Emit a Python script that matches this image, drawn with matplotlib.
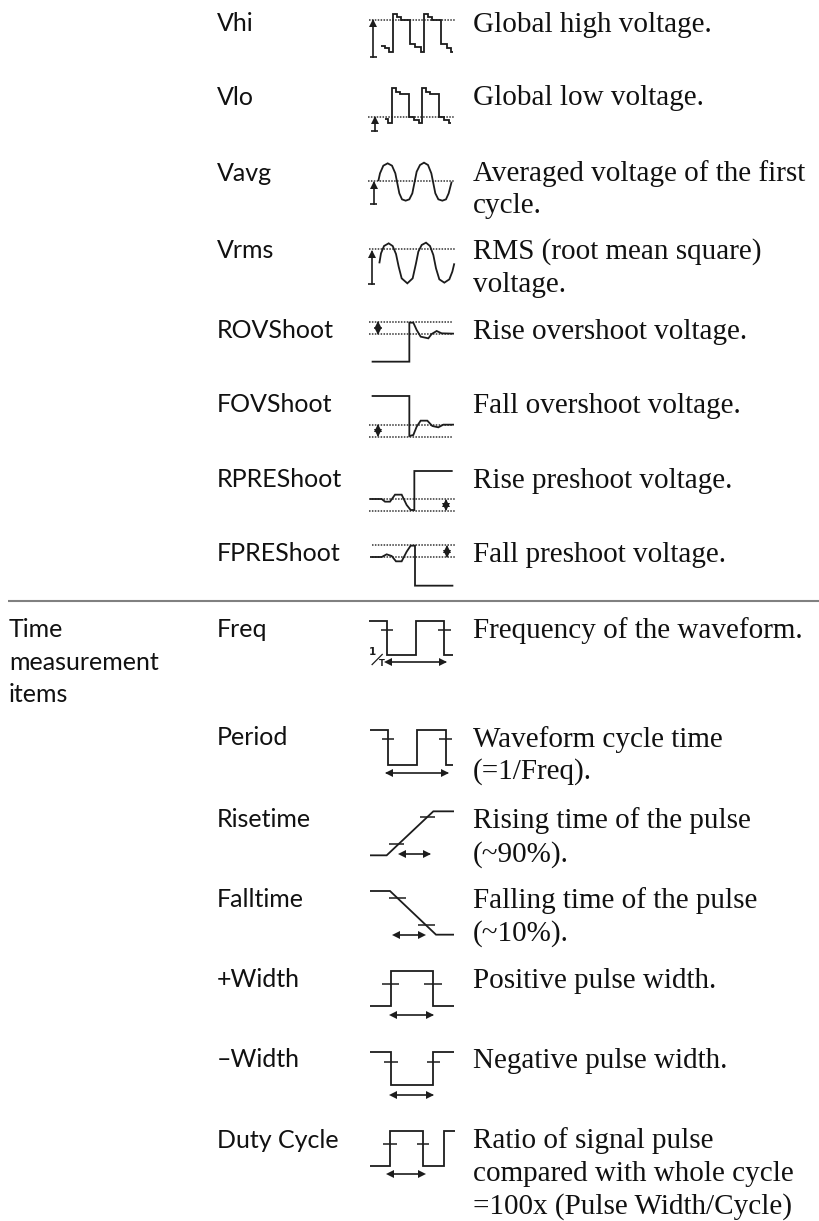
import matplotlib
matplotlib.use("Agg")
import matplotlib.pyplot as plt

# table text
group_lines = ["Time", "measurement", "items"]
group_base = [637, 670, 702]

names = ["Vhi", "Vlo", "Vavg", "Vrms", "ROVShoot", "FOVShoot", "RPREShoot", "FPREShoot",
         "Freq", "Period", "Risetime", "Falltime", "+Width", "\u2013Width", "Duty Cycle"]
name_base = [31, 105, 181, 258, 338, 412, 487, 561, 637, 745, 827, 907, 987, 1067, 1148]

desc_lines = ["Global high voltage.", "Global low voltage.",
              "Averaged voltage of the first", "cycle.",
              "RMS (root mean square)", "voltage.",
              "Rise overshoot voltage.", "Fall overshoot voltage.",
              "Rise preshoot voltage.", "Fall preshoot voltage.",
              "Frequency of the waveform.",
              "Waveform cycle time", "(=1/Freq).",
              "Rising time of the pulse", "(~90%).",
              "Falling time of the pulse", "(~10%).",
              "Positive pulse width.", "Negative pulse width.",
              "Ratio of signal pulse", "compared with whole cycle",
              "=100x (Pulse Width/Cycle)"]
desc_base = [32, 105, 181, 213, 259, 292, 339, 413, 488, 562, 638, 747, 779, 828, 862, 908, 941,
             988, 1068, 1148, 1181, 1214]

vhi = [(242, 137), (255, 137), (255, 143), (268, 143), (268, 155), (280, 155), (280, 42), (290, 42),
       (290, 52), (302, 52), (302, 61), (330, 61), (330, 133), (345, 133), (345, 140), (362, 140),
       (362, 155), (372, 155), (372, 42), (383, 42), (383, 52), (395, 52), (395, 61), (423, 61),
       (423, 133), (440, 133), (440, 143), (452, 143), (452, 155), (460, 155)]
vlo = [(255, 358), (265, 358), (265, 370), (277, 370), (277, 265), (288, 265), (288, 275), (300, 275),
       (300, 283), (327, 283), (327, 352), (343, 352), (343, 360), (357, 360), (357, 370), (367, 370),
       (367, 265), (378, 265), (378, 275), (390, 275), (390, 283), (416, 283), (416, 352), (432, 352),
       (432, 360), (447, 360), (447, 370), (453, 370)]
vavg = [(235, 543), (240, 520), (250, 497), (263, 490), (276, 497), (286, 520), (292, 550), (298, 580),
        (306, 598), (317, 602), (328, 598), (337, 580), (344, 545), (350, 515), (360, 495), (372, 488),
        (384, 495), (394, 520), (400, 550), (406, 580), (415, 598), (427, 602), (438, 598), (446, 580),
        (455, 545)]
vrms = [(238, 790), (243, 760), (252, 738), (266, 730), (278, 738), (288, 762), (296, 800), (305, 835),
        (322, 850), (338, 835), (348, 790), (355, 755), (365, 735), (378, 728), (390, 738), (400, 765),
        (408, 805), (418, 838), (433, 848), (448, 838), (457, 815), (463, 790)]
rov = [(215, 125), (328, 125), (328, 8), (340, 8), (350, 30), (362, 50), (385, 55), (395, 42),
       (410, 33), (425, 40), (462, 41)]
fov = [(215, 228), (328, 228), (328, 348), (340, 345), (350, 320), (362, 302), (382, 302), (397, 318),
       (415, 322), (430, 314), (462, 314)]
rpre = [(210, 537), (245, 537), (255, 545), (270, 545), (285, 524), (305, 524), (320, 555), (332, 570),
        (343, 570), (343, 453), (458, 453)]
fpre = [(210, 711), (245, 711), (260, 703), (275, 708), (288, 724), (305, 724), (320, 695), (332, 677),
        (345, 677), (345, 797), (460, 797)]
freq = [(27, 34), (82, 34), (82, 135), (167, 135), (167, 34), (253, 34), (253, 135), (278, 135)]
period = [(210, 270), (265, 270), (265, 376), (350, 376), (350, 270), (438, 270), (438, 376), (460, 376)]
rise = [(210, 646), (260, 646), (400, 514), (462, 514)]
fall = [(210, 753), (270, 753), (408, 884), (462, 884)]
pwidth = [(210, 227), (273, 227), (273, 124), (400, 124), (400, 227), (462, 227)]
nwidth = [(210, 365), (272, 365), (272, 466), (400, 466), (400, 365), (462, 365)]
duty = [(210, 709), (270, 709), (270, 604), (368, 604), (368, 709), (432, 709), (432, 604), (465, 604)]

INK = "#1c1c1c"
DOT = "#333333"
SERIF = "Liberation Serif"
SANS = "Lato"

fig = plt.figure(figsize=(8.2, 12.21), dpi=100)
ax = fig.add_axes([0, 0, 1, 1])
ax.set_xlim(0, 820)
ax.set_ylim(1221, 0)
ax.axis("off")


def page(pts, ox, oy):
    return [ox + p[0] / 3 for p in pts], [oy + p[1] / 3 for p in pts]


def wave(pts, ox=300, oy=0, lw=1.3):
    xs, ys = page(pts, ox, oy)
    ax.plot(xs, ys, color=INK, lw=lw, solid_joinstyle="miter", solid_capstyle="butt")


def dotted(y, x0, x1, ox=300, oy=0):
    xs, ys = page([(x0, y), (x1, y)], ox, oy)
    ax.plot(xs, ys, color=DOT, lw=1.1, ls=(0, (1, 0.9)))


def tick(y, x0, x1, ox=300, oy=0):
    wave([(x0, y), (x1, y)], ox, oy, lw=1.1)


def h_arrow(y, x0, x1, ox=300, oy=0):
    xs, ys = page([(x0, y), (x1, y)], ox, oy)
    ax.plot(xs, ys, color=INK, lw=1.2)
    ax.plot(xs[0] + 1.5, ys[0], marker="<", ms=5.5, color=INK, mew=0)
    ax.plot(xs[1] - 1.5, ys[1], marker=">", ms=5.5, color=INK, mew=0)


def v_arrow(x, y0, y1, ox=300, oy=0, both=False, cap=None):
    xs, ys = page([(x, y0), (x, y1)], ox, oy)
    ax.plot(xs, ys, color=INK, lw=1.2)
    ax.plot(xs[1], ys[1] + 2, marker="^", ms=5.5, color=INK, mew=0)
    if both:
        ax.plot(xs[0], ys[0] - 2, marker="v", ms=5.5, color=INK, mew=0)
    if cap:
        wave([(x - cap, y0), (x + cap, y0)], ox, oy, lw=1.2)


# Vhi .. Vrms
dotted(61, 208, 465)
v_arrow(220, 170, 64, cap=11)
wave(vhi)
dotted(352, 205, 465)
v_arrow(224, 393, 355, cap=10)
wave(vlo)
dotted(543, 205, 465)
v_arrow(221, 612, 548, cap=11)
wave(vavg)
dotted(748, 208, 465)
v_arrow(215, 853, 755, cap=11)
wave(vrms)

# overshoot / preshoot
oy = 320
dotted(6, 208, 460, oy=oy)
dotted(41, 208, 460, oy=oy)
v_arrow(233, 38, 10, oy=oy, both=True)
wave(rov, oy=oy)
dotted(314, 208, 460, oy=oy)
dotted(350, 208, 460, oy=oy)
v_arrow(233, 346, 318, oy=oy, both=True)
wave(fov, oy=oy)
dotted(537, 208, 465, oy=oy)
dotted(572, 208, 465, oy=oy)
v_arrow(438, 568, 542, oy=oy, both=True)
wave(rpre, oy=oy)
dotted(676, 215, 465, oy=oy)
dotted(711, 215, 465, oy=oy)
v_arrow(441, 708, 680, oy=oy, both=True)
wave(fpre, oy=oy)

# rule between the groups
ax.plot([8, 820], [601, 601], color="#808080", lw=1.5, solid_capstyle="butt")

# Freq has its own crop
wave(freq, 360, 610)
tick(60, 62, 100, 360, 610)
tick(60, 235, 272, 360, 610)
h_arrow(157, 80, 255, 360, 610)
ax.text(372.5, 655, "1", fontsize=7.5, fontweight="bold", family="DejaVu Sans", color=INK, ha="center", va="baseline")
ax.text(381.5, 666, "T", fontsize=6, fontweight="bold", family="DejaVu Sans", color=INK, ha="center", va="baseline")
wave([(35, 165), (68, 132)], 360, 610, lw=0.9)

oy = 640
wave(period, oy=oy)
tick(298, 245, 283, oy=oy)
tick(298, 418, 457, oy=oy)
h_arrow(398, 262, 440, oy=oy)
wave(rise, oy=oy)
tick(613, 268, 312, oy=oy)
tick(530, 360, 405, oy=oy)
h_arrow(642, 303, 387, oy=oy)
wave(fall, oy=oy)
tick(775, 268, 318, oy=oy)
tick(856, 355, 405, oy=oy)
h_arrow(884, 285, 370, oy=oy)

oy = 930
wave(pwidth, oy=oy)
tick(161, 246, 298, oy=oy)
tick(161, 372, 425, oy=oy)
h_arrow(255, 276, 396, oy=oy)
wave(nwidth, oy=oy)
tick(397, 252, 294, oy=oy)
tick(397, 380, 420, oy=oy)
h_arrow(494, 276, 396, oy=oy)
wave(duty, oy=oy)
tick(642, 248, 290, oy=oy)
tick(642, 350, 388, oy=oy)
h_arrow(732, 266, 370, oy=oy)

for s, y in zip(group_lines, group_base):
    ax.text(9, y, s, family=SANS, fontsize=18, color="#111111", va="baseline")
for s, y in zip(names, name_base):
    ax.text(217, y, s, family=SANS, fontsize=18, color="#111111", va="baseline")
for s, y in zip(desc_lines, desc_base):
    ax.text(473, y, s, family=SERIF, fontsize=21, color="#111111", va="baseline")

fig.savefig("out.png", dpi=100)
